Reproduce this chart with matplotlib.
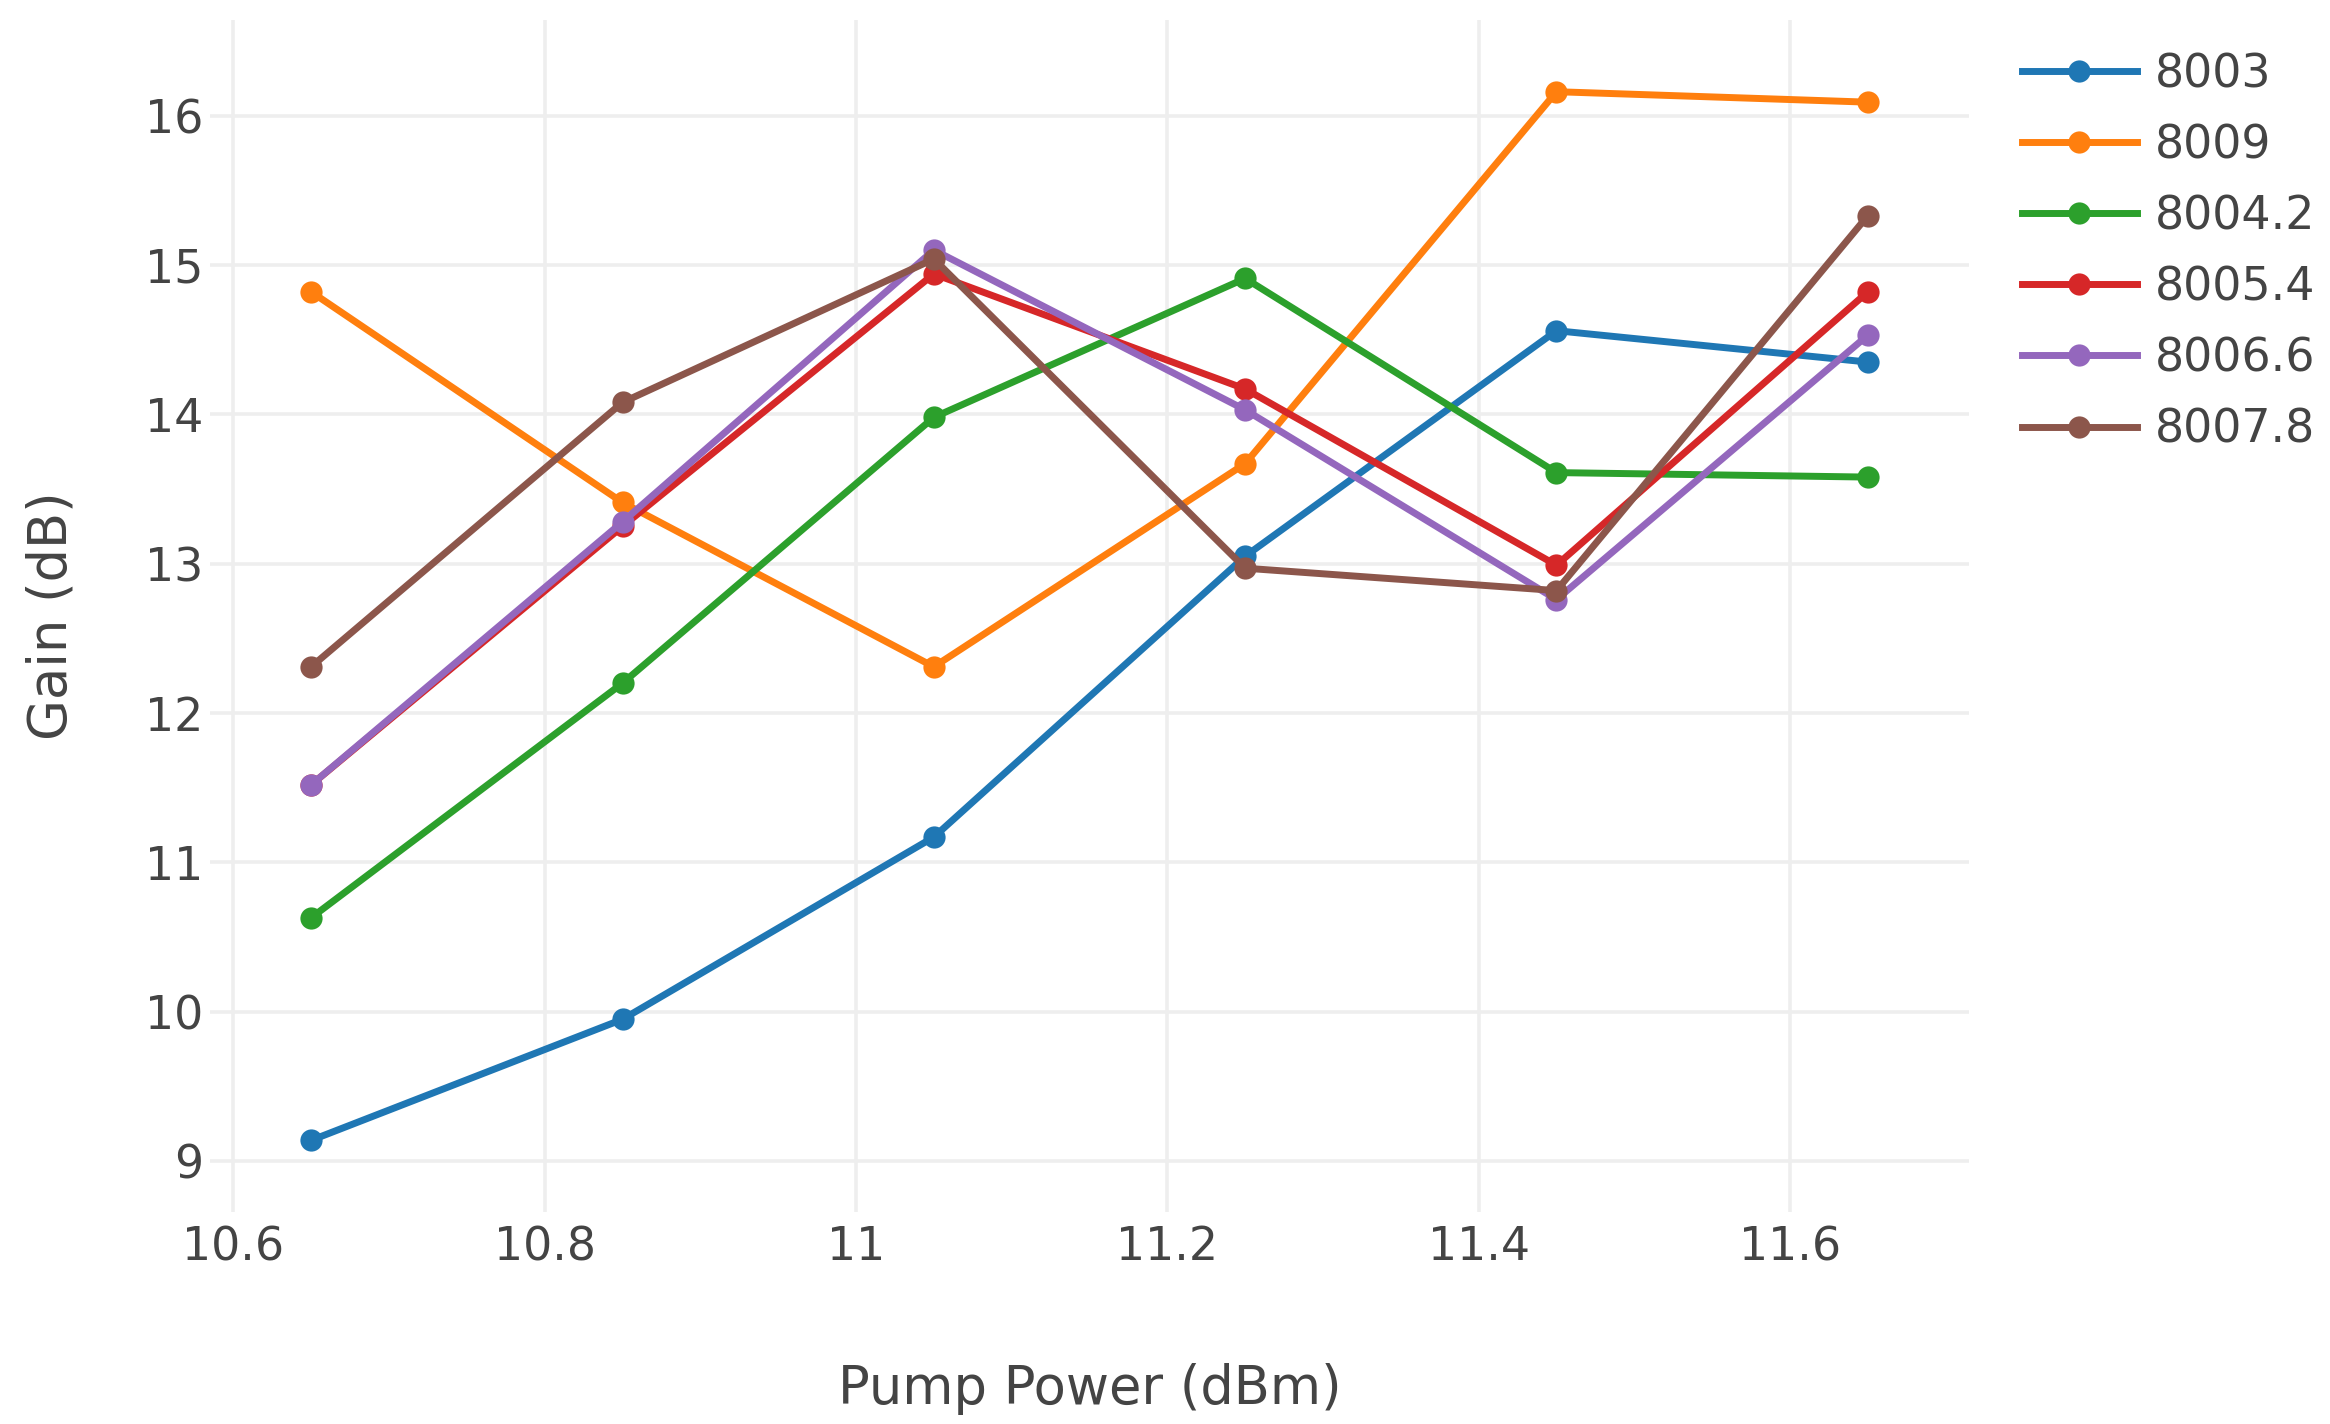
import matplotlib
matplotlib.use("Agg")
import matplotlib.pyplot as plt

# Pump power sweep (dBm) and measured gain (dB) for each signal frequency
pump_power = [10.65, 10.85, 11.05, 11.25, 11.45, 11.65]

series_names = ["8003", "8009", "8004.2", "8005.4", "8006.6", "8007.8"]
gain_8003 = [9.14, 9.95, 11.17, 13.05, 14.56, 14.35]
gain_8009 = [14.82, 13.41, 12.31, 13.67, 16.16, 16.09]
gain_8004_2 = [10.63, 12.20, 13.98, 14.91, 13.61, 13.58]
gain_8005_4 = [11.52, 13.25, 14.94, 14.17, 12.99, 14.82]
gain_8006_6 = [11.52, 13.28, 15.10, 14.03, 12.76, 14.53]
gain_8007_8 = [12.31, 14.08, 15.04, 12.97, 12.82, 15.33]

colors = ["#1f77b4", "#ff7f0e", "#2ca02c", "#d62728", "#9467bd", "#8c564b"]

x_ticks = [10.6, 10.8, 11.0, 11.2, 11.4, 11.6]
x_tick_labels = ["10.6", "10.8", "11", "11.2", "11.4", "11.6"]
y_ticks = [9, 10, 11, 12, 13, 14, 15, 16]

plt.rcParams["font.family"] = ["DejaVu Sans"]
text_color = "#444444"
tick_size = 33
title_size = 38

W, H = 2330, 1424
fig = plt.figure(figsize=(W / 100, H / 100), dpi=100)
left, right, top, bottom = 210, 1969, 20, 1212
ax = fig.add_axes([left / W, 1 - bottom / H, (right - left) / W, (bottom - top) / H])

all_gains = [gain_8003, gain_8009, gain_8004_2, gain_8005_4, gain_8006_6, gain_8007_8]
for name, gains, c in zip(series_names, all_gains, colors):
    ax.plot(pump_power, gains, color=c, lw=5.0, marker="o", markersize=16,
            markeredgewidth=0, label=name, solid_joinstyle="round")

ax.set_xlim(10.585, 11.715)
ax.set_ylim(8.66, 16.64)
ax.set_xticks(x_ticks)
ax.set_xticklabels(x_tick_labels)
ax.set_yticks(y_ticks)

ax.grid(True, color="#eeeeee", lw=2.6, zorder=0)
ax.set_axisbelow(True)
for s in ax.spines.values():
    s.set_visible(False)
ax.tick_params(axis="both", length=0, labelsize=tick_size, labelcolor=text_color)
ax.tick_params(axis="x", pad=9.5)
ax.tick_params(axis="y", pad=5)

ax.set_xlabel("Pump Power (dBm)", fontsize=title_size, color=text_color, va="center")
ax.xaxis.set_label_coords(0.5, -(1389 - bottom) / (bottom - top))
ax.set_ylabel("Gain (dB)", fontsize=title_size, color=text_color, va="center")
ax.yaxis.set_label_coords(-(left - 52) / (right - left), 0.5)

leg = ax.legend(loc="upper left", bbox_to_anchor=(2022 / W, 1 - 52 / H),
                bbox_transform=fig.transFigure, frameon=False, fontsize=tick_size,
                handlelength=2.5, handletextpad=0.41, labelspacing=0.57,
                borderpad=0, borderaxespad=0)
for t in leg.get_texts():
    t.set_color(text_color)

fig.savefig("out.png", dpi=100, facecolor="white")
